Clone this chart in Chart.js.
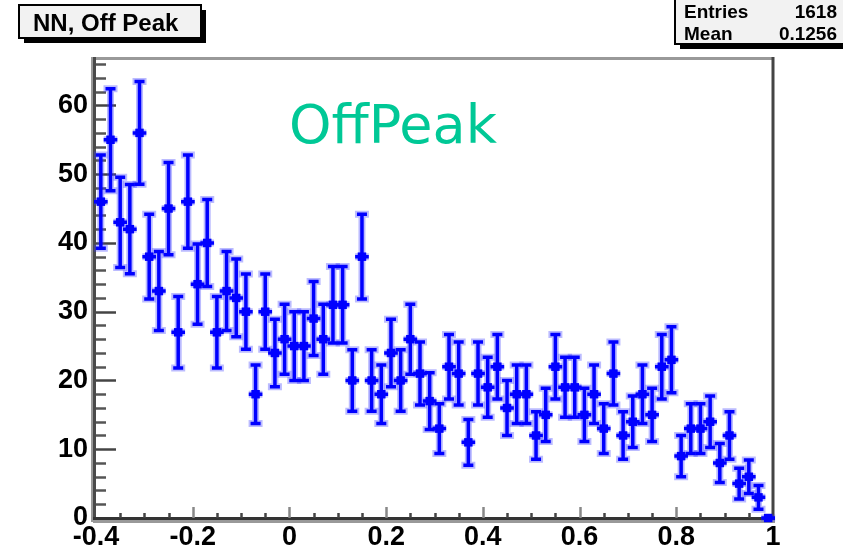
<!DOCTYPE html>
<html>
<head>
<meta charset="utf-8">
<title>NN, Off Peak</title>
<script src="https://cdn.jsdelivr.net/npm/chart.js@4"></script>
<style>
  html, body { margin: 0; padding: 0; background: #fff; }
  #wrap { width: 843px; height: 545px; }
</style>
</head>
<body>
<div id="wrap"><canvas id="grafico" width="843" height="545"></canvas></div>
<script>
// histogram NN output, off peak sample (70 bins from -0.4 to 1)
const counts = [
  46, 55, 43, 42, 56, 38, 33, 45, 27, 46,
  34, 40, 27, 33, 32, 30, 18, 30, 24, 26,
  25, 25, 29, 26, 31, 31, 20, 38, 20, 18,
  24, 20, 26, 21, 17, 13, 22, 21, 11, 21,
  19, 22, 16, 18, 18, 12, 15, 22, 19, 19,
  15, 18, 13, 21, 12, 14, 18, 15, 22, 23,
  9, 13, 13, 14, 8, 12, 5, 6, 3, 0
];
const xLow = -0.4;
const xHigh = 1.0;
const yMax = 66.6;
const xTicks = [-0.4, -0.2, 0, 0.2, 0.4, 0.6, 0.8, 1];
const yTicks = [0, 10, 20, 30, 40, 50, 60];

const statsLabels = ['Entries', 'Mean'];
const statsValues = ['1618', '0.1256'];
const histTitle = 'NN, Off Peak';
const sampleLabel = 'OffPeak';

const binWidth = (xHigh - xLow) / counts.length;
const centers = counts.map((c, i) => +(xLow + (i + 0.5) * binWidth).toFixed(3));
const pontos = centers.map((x, i) => ({ x: x, y: counts[i] }));

// frame and inner tick marks, ROOT style
const moldura = {
  id: 'moldura',
  beforeDatasetsDraw(chart) {
    const ctx = chart.ctx;
    const a = chart.chartArea;
    const xs = chart.scales.x, ys = chart.scales.y;
    ctx.save();
    ctx.lineCap = 'butt';
    // top and right
    ctx.strokeStyle = '#999';
    ctx.lineWidth = 3;
    ctx.beginPath(); ctx.moveTo(a.left, a.top - 1.5); ctx.lineTo(a.right, a.top - 1.5); ctx.stroke();
    ctx.strokeStyle = '#444';
    ctx.beginPath(); ctx.moveTo(a.right, a.top - 3); ctx.lineTo(a.right, a.bottom + 2); ctx.stroke();
    // y axis
    ctx.strokeStyle = '#999';
    ctx.lineWidth = 2;
    ctx.beginPath(); ctx.moveTo(a.left - 4, a.top - 3); ctx.lineTo(a.left - 4, a.bottom + 4); ctx.stroke();
    ctx.strokeStyle = '#4a4a4a';
    ctx.lineWidth = 3;
    ctx.beginPath(); ctx.moveTo(a.left - 1.5, a.top - 3); ctx.lineTo(a.left - 1.5, a.bottom + 4); ctx.stroke();
    // x axis
    ctx.strokeStyle = '#999';
    ctx.beginPath(); ctx.moveTo(a.left - 3, a.bottom + 3.5); ctx.lineTo(a.right + 2, a.bottom + 3.5); ctx.stroke();
    ctx.strokeStyle = '#333';
    ctx.beginPath(); ctx.moveTo(a.left - 3, a.bottom + 0.5); ctx.lineTo(a.right + 2, a.bottom + 0.5); ctx.stroke();

    // y ticks: major every 10, minor every 2
    ctx.lineWidth = 2.5;
    for (let v = 2; v < yMax; v += 2) {
      const py = Math.round(ys.getPixelForValue(v)) + 0.5;
      const major = v % 10 === 0;
      ctx.strokeStyle = major ? '#444' : '#555';
      ctx.beginPath(); ctx.moveTo(a.left, py); ctx.lineTo(a.left + (major ? 20 : 10), py); ctx.stroke();
    }
    // x ticks: major every 0.2, minor every 0.05
    for (let k = 1; k < 28; k++) {
      const v = xLow + k * 0.05;
      const px = Math.round(xs.getPixelForValue(v)) + 0.5;
      const major = k % 4 === 0;
      ctx.strokeStyle = major ? '#888' : '#444';
      ctx.beginPath(); ctx.moveTo(px, a.bottom); ctx.lineTo(px, a.bottom - (major ? 11 : 5)); ctx.stroke();
    }
    ctx.restore();
  }
};

// error bars: sqrt(N) vertical, bin width horizontal
const barrasErro = {
  id: 'barrasErro',
  beforeDatasetsDraw(chart) {
    const ctx = chart.ctx;
    const xs = chart.scales.x, ys = chart.scales.y;
    const camadas = [
      { cor: 'rgba(60, 60, 255, 0.35)', largura: 7, cap: 7 },
      { cor: '#0000ff', largura: 3.5, cap: 5 }
    ];
    ctx.save();
    camadas.forEach(c => {
      ctx.strokeStyle = c.cor;
      ctx.lineWidth = c.largura;
      counts.forEach((n, i) => {
        const err = Math.sqrt(n);
        const px = xs.getPixelForValue(centers[i]);
        const py = ys.getPixelForValue(n);
        const yTop = ys.getPixelForValue(n + err);
        const yBot = ys.getPixelForValue(n - err);
        const xl = xs.getPixelForValue(centers[i] - binWidth / 2);
        const xr = xs.getPixelForValue(centers[i] + binWidth / 2);
        ctx.beginPath();
        ctx.moveTo(px, yTop); ctx.lineTo(px, yBot);
        ctx.moveTo(px - c.cap, yTop); ctx.lineTo(px + c.cap, yTop);
        ctx.moveTo(px - c.cap, yBot); ctx.lineTo(px + c.cap, yBot);
        ctx.moveTo(xl - 2, py); ctx.lineTo(xr + 2, py);
        ctx.stroke();
      });
    });
    ctx.restore();
  }
};

// title box, stats box and sample label
function caixa(ctx, x, y, w, h) {
  ctx.fillStyle = '#000';
  ctx.fillRect(x + 5, y + 5, w, h);
  ctx.fillStyle = '#f2f2f2';
  ctx.fillRect(x, y, w, h);
  ctx.strokeStyle = '#000';
  ctx.lineWidth = 2;
  ctx.strokeRect(x, y, w, h);
}

const textos = {
  id: 'textos',
  afterDraw(chart) {
    const ctx = chart.ctx;
    ctx.save();
    caixa(ctx, 19, 5, 182, 33);
    ctx.fillStyle = '#000';
    ctx.font = 'bold 24px "Liberation Sans", Arial, sans-serif';
    ctx.textBaseline = 'alphabetic';
    ctx.textAlign = 'left';
    ctx.fillText(histTitle, 33, 31);

    caixa(ctx, 675, -2, 175, 46);
    ctx.fillStyle = '#000';
    ctx.font = 'bold 19px "Liberation Sans", Arial, sans-serif';
    statsLabels.forEach((t, i) => {
      ctx.textAlign = 'left';
      ctx.fillText(t, 684, 18 + i * 22);
      ctx.textAlign = 'right';
      ctx.fillText(statsValues[i], 837, 18 + i * 22);
    });

    ctx.fillStyle = '#00c896';
    ctx.font = '54px "DejaVu Sans", sans-serif';
    ctx.textAlign = 'left';
    ctx.fillText(sampleLabel, 289, 143);
    ctx.restore();
  }
};

const fonteEixo = { family: '"Liberation Sans", Arial, sans-serif', size: 27, weight: 'bold' };

const dataHist = {
  datasets: [{
    label: histTitle,
    data: pontos,
    backgroundColor: '#0000ff',
    borderColor: '#0000ff',
    borderWidth: 0,
    pointStyle: 'rect',
    pointRadius: 6,
    showLine: false,
    clip: false
  }]
};

const configHist = {
  type: 'scatter',
  data: dataHist,
  options: {
    responsive: false,
    animation: false,
    devicePixelRatio: 1,
    layout: { padding: { top: 60, right: 70, left: 0, bottom: 0 } },
    plugins: { legend: { display: false }, tooltip: { enabled: false } },
    scales: {
      x: {
        type: 'linear',
        min: xLow,
        max: xHigh,
        afterBuildTicks: s => { s.ticks = xTicks.map(v => ({ value: v })); },
        afterFit: s => { s.height = 27; },
        ticks: {
          font: fonteEixo,
          color: '#000',
          padding: 3,
          maxRotation: 0,
          autoSkip: false,
          callback: v => String(Math.round(v * 10) / 10)
        },
        grid: { display: false, drawTicks: false },
        border: { display: false }
      },
      y: {
        min: 0,
        max: yMax,
        afterBuildTicks: s => { s.ticks = yTicks.map(v => ({ value: v })); },
        afterFit: s => { s.width = 96; },
        ticks: {
          font: fonteEixo,
          color: '#000',
          padding: 8,
          callback: v => String(v)
        },
        grid: { display: false, drawTicks: false },
        border: { display: false }
      }
    }
  },
  plugins: [moldura, barrasErro, textos]
};

const graficoHist = new Chart(document.getElementById('grafico'), configHist);
</script>
</body>
</html>
